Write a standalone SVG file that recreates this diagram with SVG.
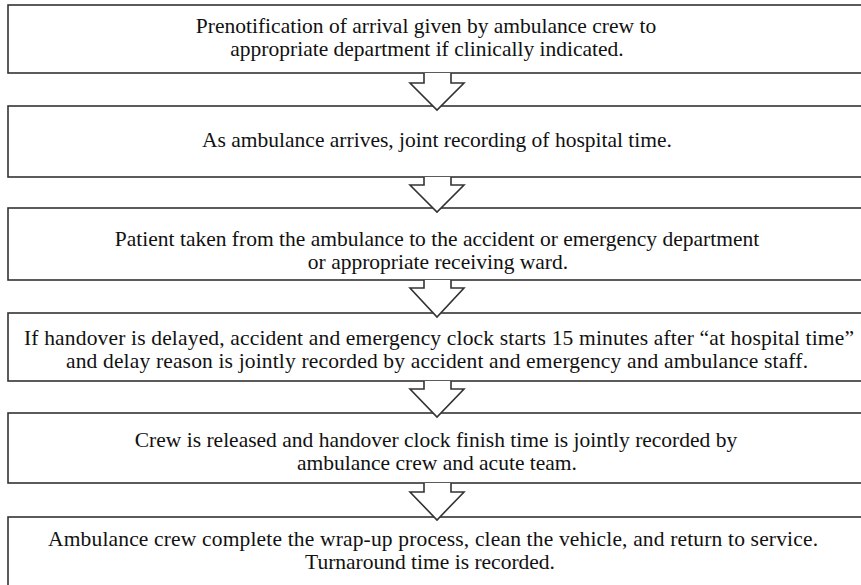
<svg xmlns="http://www.w3.org/2000/svg" width="861" height="585" viewBox="0 0 861 585">
<style>
.box{fill:#fff;stroke:#333;stroke-width:1.6}
.arr{fill:#fff;stroke:#333;stroke-width:1.6;stroke-linejoin:miter}
.t{font-family:'Liberation Serif','Times New Roman',serif;font-size:21.5px;fill:#111;text-anchor:middle}
</style>
<rect width="861" height="585" fill="#fff"/>
<g id="n1"><rect class="box" x="8" y="5" width="870" height="68"/>
<text class="t" x="426" y="33">Prenotification of arrival given by ambulance crew to</text>
<text class="t" x="427" y="56">appropriate department if clinically indicated.</text></g>
<g id="n2"><rect class="box" x="8" y="106" width="870" height="71"/>
<text class="t" x="437" y="147">As ambulance arrives, joint recording of hospital time.</text></g>
<g id="n3"><rect class="box" x="8" y="208" width="870" height="72"/>
<text class="t" x="437" y="246">Patient taken from the ambulance to the accident or emergency department</text>
<text class="t" x="438" y="269">or appropriate receiving ward.</text></g>
<g id="n4"><rect class="box" x="8" y="313" width="870" height="68"/>
<text class="t" x="439" y="345" textLength="830">If handover is delayed, accident and emergency clock starts 15 minutes after “at hospital time”</text>
<text class="t" x="437" y="368" textLength="742">and delay reason is jointly recorded by accident and emergency and ambulance staff.</text></g>
<g id="n5"><rect class="box" x="8" y="413" width="870" height="70"/>
<text class="t" x="436" y="447">Crew is released and handover clock finish time is jointly recorded by</text>
<text class="t" x="437" y="470">ambulance crew and acute team.</text></g>
<g id="n6"><rect class="box" x="8" y="517" width="870" height="90"/>
<text class="t" x="433" y="546" textLength="770">Ambulance crew complete the wrap-up process, clean the vehicle, and return to service.</text>
<text class="t" x="430" y="569">Turnaround time is recorded.</text></g>
<g id="connectors">
<path class="arr" d="M424,73 V83 H410 L437,110 L464,83 H451 V73"/>
<path class="arr" d="M424,177 V185 H410 L437,212 L464,185 H451 V177"/>
<path class="arr" d="M424,280 V288 H410 L437,317 L464,288 H451 V280"/>
<path class="arr" d="M424,381 V389 H410 L437,417 L464,389 H451 V381"/>
<path class="arr" d="M424,483 V492 H410 L437,520 L464,492 H451 V483"/>
</g>
</svg>
